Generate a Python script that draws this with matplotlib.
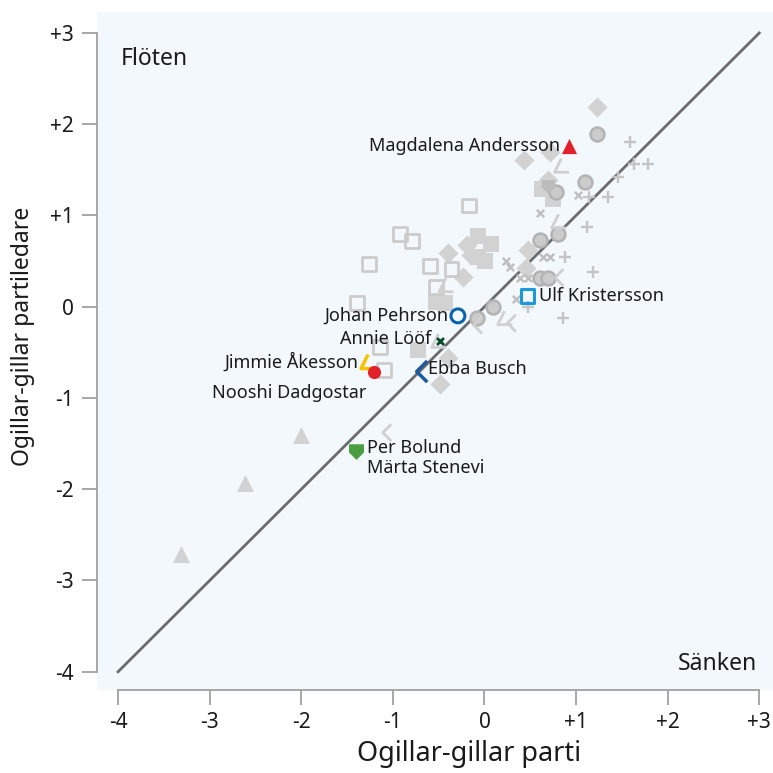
import numpy as np
import matplotlib
matplotlib.use('Agg')
import matplotlib.pyplot as plt
from matplotlib.path import Path

plt.rcParams['font.family'] = ['Noto Sans', 'DejaVu Sans']

# current party leaders
names = ['Magdalena Andersson', 'Ulf Kristersson', 'Johan Pehrson', 'Annie Lööf',
         'Jimmie Åkesson', 'Nooshi Dadgostar', 'Ebba Busch', 'Per Bolund\nMärta Stenevi']
party_x = [0.92, 0.47, -0.29, -0.49, -1.28, -1.21, -0.74, -1.40]
leader_y = [1.76, 0.12, -0.10, -0.38, -0.62, -0.72, -0.71, -1.59]
colors = ['#e3212b', '#1a9ad6', '#0b63ae', '#0d4a2a', '#f5c400', '#e3212b', '#1c5a9e', '#4a9e3e']

# earlier leaders / years (grey)
tri_x = [-3.31, -2.61, -2.00]
tri_y = [-2.71, -1.93, -1.41]

dia_x = [1.23, 0.43, 0.72, 0.69, -0.40, -0.19, -0.15, -0.23, 0.47, 0.45, -0.48, -0.40]
dia_y = [2.19, 1.61, 1.70, 1.39, 0.59, 0.68, 0.57, 0.33, 0.62, 0.43, -0.85, -0.56]

circ_x = [1.23, 1.10, 0.78, 0.80, 0.61, 0.61, 0.69, 0.09, -0.08]
circ_y = [1.89, 1.37, 1.26, 0.80, 0.73, 0.32, 0.32, 0.00, -0.12]

sqf_x = [0.63, 0.75, -0.07, 0.07, -0.07, 0.01, -0.53, -0.43, -0.73]
sqf_y = [1.29, 1.18, 0.77, 0.69, 0.55, 0.50, 0.05, 0.04, -0.47]

sqo_x = [-0.17, -0.92, -0.79, -1.26, -0.59, -0.36, -0.53, -1.39, -1.14, -1.10]
sqo_y = [1.11, 0.80, 0.72, 0.47, 0.45, 0.41, 0.22, 0.04, -0.44, -0.69]

plus_x = [1.59, 1.63, 1.78, 1.46, 1.14, 1.35, 1.12, 1.18, 0.88, 0.86, 0.47]
plus_y = [1.81, 1.56, 1.56, 1.42, 1.20, 1.20, 0.87, 0.38, 0.54, -0.12, 0.00]

cross_x = [1.02, 0.61, 0.23, 0.28, 0.64, 0.72, 0.39, 0.47, 0.34]
cross_y = [1.22, 1.03, 0.50, 0.44, 0.54, 0.54, 0.32, 0.32, 0.08]

sd_x = [0.83, 0.80, 0.21, -0.43, -0.51]
sd_y = [1.53, 0.92, -0.14, 0.22, -0.39]

kd_x = [-1.11, 0.25, -0.12, 0.77]
kd_y = [-1.38, -0.18, -0.20, 0.32]

pent_x = [0.69]
pent_y = [1.31]

# marker shapes
sd_marker = Path([(0.1, 1.0), (-0.7, -0.6), (1.0, -0.6)], [Path.MOVETO, Path.LINETO, Path.LINETO])
kd_marker = Path([(0.8, 0.8), (0.0, 0.0), (0.8, -0.8)], [Path.MOVETO, Path.LINETO, Path.LINETO])
pent_marker = Path([(-1, 1.1), (1, 1.1), (1, 0), (0, -1), (-1, 0), (-1, 1.1)],
                   [Path.MOVETO, Path.LINETO, Path.LINETO, Path.LINETO, Path.LINETO, Path.CLOSEPOLY])

fig = plt.figure(figsize=(7.73, 7.73), dpi=100)
ax = fig.add_axes([97 / 773, 83 / 773, 676 / 773, 678 / 773])
ax.set_facecolor('#f3f8fd')
ax.set_xlim(-4.23, 3.15)
ax.set_ylim(-4.2, 3.23)

ax.plot([-4, 3], [-4, 3], color='#6b6b6b', lw=2, zorder=1)

g = '#d2d2d2'
ax.scatter(tri_x, tri_y, marker='^', s=150, color=g, zorder=2, linewidths=0)
ax.scatter(dia_x, dia_y, marker='D', s=105, color=g, zorder=2, linewidths=0)
ax.scatter(sqf_x, sqf_y, marker='s', s=120, color=g, zorder=2, linewidths=0)
ax.scatter(sqo_x, sqo_y, marker='s', s=100, facecolor='none', edgecolor='#cccccc', linewidths=2, zorder=2)
ax.scatter(circ_x, circ_y, marker='o', s=100, facecolor='#cbcbcb', edgecolor='#b3b3b3', linewidths=1.8, zorder=2)
ax.scatter(plus_x, plus_y, marker='+', s=85, color='#c4c4c4', linewidths=1.7, zorder=2)
ax.scatter(cross_x, cross_y, marker='x', s=28, color='#bdbdbd', linewidths=1.7, zorder=2)
ax.scatter(sd_x, sd_y, marker=sd_marker, s=150, facecolor='none', edgecolor='#d0d0d0', linewidths=2, zorder=2)
ax.scatter(kd_x, kd_y, marker=kd_marker, s=150, facecolor='none', edgecolor='#d0d0d0', linewidths=2, zorder=2)
ax.scatter(pent_x, pent_y, marker=pent_marker, s=110, color='#bcbcbc', linewidths=0, zorder=2)

# leaders
mk = ['^', 's', 'o', 'x', sd_marker, 'o', kd_marker, pent_marker]
for i in range(len(names)):
    if i in (1, 2):
        ax.scatter(party_x[i], leader_y[i], marker=mk[i], s=100, facecolor='none',
                   edgecolor=colors[i], linewidths=2.2, zorder=4)
    elif i == 3:
        ax.scatter(party_x[i], leader_y[i], marker=mk[i], s=25, color=colors[i], linewidths=2, zorder=4)
    elif i == 4:
        ax.scatter(party_x[i], leader_y[i], marker=mk[i], s=160, facecolor='none',
                   edgecolor=colors[i], linewidths=2.5, zorder=4)
    elif i == 6:
        ax.scatter(party_x[i], leader_y[i], marker=mk[i], s=230, facecolor='none',
                   edgecolor=colors[i], linewidths=2.5, zorder=4)
    elif i == 5:
        ax.scatter(party_x[i], leader_y[i], marker=mk[i], s=90, color=colors[i], linewidths=0, zorder=4)
    elif i == 7:
        ax.scatter(party_x[i], leader_y[i], marker=mk[i], s=140, color=colors[i], linewidths=0, zorder=4)
    else:
        ax.scatter(party_x[i], leader_y[i], marker=mk[i], s=120, color=colors[i], linewidths=0, zorder=4)

# label offsets in points
offs = [(-6, 0, 'right', 'center'), (8, 0, 'left', 'center'), (-7, 0, 'right', 'center'),
        (-6, 1.5, 'right', 'center'), (-6, 1, 'right', 'center'), (-5, -15, 'right', 'center'),
        (8, 1.5, 'left', 'center'), (8, 9, 'left', 'top')]
for i, name in enumerate(names):
    dx, dy, ha, va = offs[i]
    ax.annotate(name, (party_x[i], leader_y[i]), xytext=(dx, dy), textcoords='offset points',
                ha=ha, va=va, fontsize=13, color='#1a1a1a', zorder=5, linespacing=1.1)

ax.text(-3.97, 2.72, 'Flöten', fontsize=16.5, ha='left', va='center', color='#1a1a1a')
ax.text(2.98, -3.92, 'Sänken', fontsize=16.5, ha='right', va='center', color='#1a1a1a')

ticks = [-4, -3, -2, -1, 0, 1, 2, 3]
tick_labels = ['-4', '-3', '-2', '-1', '0', '+1', '+2', '+3']
ax.set_xticks(ticks)
ax.set_xticklabels(tick_labels)
ax.set_yticks(ticks)
ax.set_yticklabels(tick_labels)
for s in ['top', 'right']:
    ax.spines[s].set_visible(False)
for s in ['left', 'bottom']:
    ax.spines[s].set_color('#a0a0a0')
    ax.spines[s].set_linewidth(1.3)
    ax.spines[s].set_bounds(-4, 3)
ax.tick_params(direction='out', length=11, width=1.3, color='#a0a0a0', labelsize=15,
               labelcolor='#1a1a1a')
ax.tick_params(axis='y', pad=6)
ax.tick_params(axis='x', pad=5)

ax.set_xlabel('Ogillar-gillar parti', fontsize=19.5, color='#1a1a1a')
ax.set_ylabel('Ogillar-gillar partiledare', fontsize=16.5, color='#1a1a1a')
ax.xaxis.set_label_coords(0.55, -0.074)
ax.yaxis.set_label_coords(-0.092, 0.522)

fig.savefig('out.png', dpi=100)
